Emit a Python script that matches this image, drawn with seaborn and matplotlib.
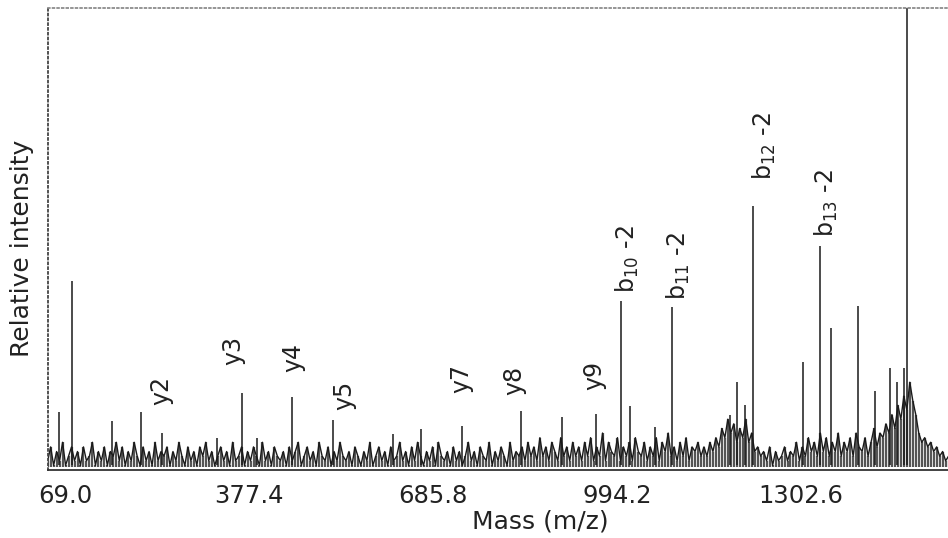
import numpy as np
import matplotlib
matplotlib.use("Agg")
import matplotlib.pyplot as plt
import seaborn as sns

# MS/MS spectrum, intensities in % of the base peak
tick_values = [69.0, 377.4, 685.8, 994.2, 1302.6]
tick_labels = ["69.0", "377.4", "685.8", "994.2", "1302.6"]

# baseline noise, read every 5 Da starting at m/z 40
noise_start = 40
noise_step = 5
noise_a = [2, 5, 1, 4, 2, 6, 1, 3, 5, 2, 4, 1, 5, 2, 3, 6, 1, 4, 2, 5,
           1, 4, 3, 6, 2, 5, 1, 4, 2, 6, 3, 1, 5, 2, 4, 1, 6, 2, 4, 3,
           5, 1, 4, 2, 6, 3, 1, 5, 2, 4, 1, 5, 3, 6, 2, 4, 1, 3, 5, 2,
           4, 1, 6, 2, 3, 5, 1, 4, 2, 5, 3, 1, 6, 2, 4, 1, 5, 3, 2, 4]
noise_b = [1, 5, 2, 4, 6, 1, 3, 5, 2, 4, 1, 6, 3, 2, 5, 1, 4, 2, 6, 3,
           2, 4, 1, 5, 3, 1, 4, 2, 6, 1, 3, 5, 2, 4, 1, 5, 2, 3, 6, 2,
           4, 1, 5, 2, 6, 3, 1, 4, 2, 5, 1, 6, 3, 2, 4, 1, 5, 2, 4, 1,
           3, 6, 2, 4, 1, 5, 3, 2, 6, 1, 4, 2, 5, 3, 1, 6, 2, 4, 3, 5]
noise_c = [2, 6, 3, 5, 2, 7, 3, 5, 2, 6, 4, 2, 7, 3, 5, 2, 6, 3, 5, 2,
           6, 3, 7, 2, 5, 3, 8, 2, 6, 4, 3, 7, 2, 5, 3, 6, 2, 7, 4, 3,
           6, 2, 5, 3, 7, 2, 6, 4, 8, 3, 5, 2, 6, 3, 7, 2, 5, 4, 6, 3,
           5, 3, 6, 4, 7, 5, 9, 7, 11, 8, 10, 6, 9, 7, 11, 6, 8, 4, 5, 3]
noise_d = [4, 2, 5, 1, 4, 2, 3, 5, 2, 4, 3, 6, 2, 5, 3, 7, 4, 6, 3, 8,
           4, 7, 3, 6, 4, 8, 3, 6, 4, 7, 3, 8, 5, 4, 7, 3, 6, 9, 5, 8,
           7, 10, 8, 12, 9, 14, 11, 16, 13, 19, 15, 12, 8, 6, 7, 5, 6, 4,
           5, 3, 4, 2, 3, 2, 3, 1.5]
noise = noise_a + noise_b + noise_c + noise_d

# distinct peaks (m/z, relative intensity)
peak_mz = [59, 80.7, 147.8, 196.4, 231.6, 323.8, 365.7, 390.8, 449.5, 518,
           618.8, 665.7, 734.4, 833, 902, 959, 1001, 1016, 1058, 1086,
           1183.6, 1195, 1208.8, 1222, 1306, 1334.5, 1353, 1398, 1426.7,
           1452, 1463, 1475, 1480]
peak_int = [12.5, 41, 10.6, 12.5, 8, 7, 16.6, 7, 15.8, 10.8,
            7.8, 8.9, 9.5, 12.7, 11.4, 12.1, 36.5, 13.8, 9.3, 35.2,
            12, 19, 14, 57.2, 23.3, 48.4, 30.7, 35.6, 17,
            22, 19, 22, 100]

# fragment ion annotations (text, m/z, intensity at the text foot)
ion_text = ["y2", "y3", "y4", "y5", "y7", "y8", "y9",
            r"b$_{10}$ -2", r"b$_{11}$ -2", r"b$_{12}$ -2", r"b$_{13}$ -2"]
ion_mz = [229.9, 350.6, 451, 536.6, 732.8, 821.6, 955.7,
          1011, 1096.5, 1242, 1346]
ion_int = [14.1, 22.7, 21.2, 13, 16.7, 16.2, 17.3,
           38.3, 36.8, 62.8, 50.4]

sns.set_theme(style="white")
plt.rcParams['font.family'] = ['DejaVu Sans']

fig = plt.figure(figsize=(9.48, 5.38), dpi=100)
ax = fig.add_axes([0.0506, 0.1264, 0.9494, 0.8587])

noise_mz = noise_start + noise_step * np.arange(len(noise))
# dense noise band: sticks under a zigzag trace
ax.vlines(noise_mz, 0.6, noise, color="#555555", linewidth=1.6)
sns.lineplot(x=noise_mz, y=noise, ax=ax, color="#1a1a1a", linewidth=1.0,
             estimator=None)
ax.vlines(peak_mz, 1, peak_int, color="#1a1a1a", linewidth=1.1)

for txt, mz, y in zip(ion_text, ion_mz, ion_int):
    ax.text(mz, y, txt, rotation=90, ha="center", va="bottom",
            fontsize=17, color="#222222")

ax.set_xlim(40.5, 1549)
ax.set_ylim(0, 100)
ax.set_xticks(tick_values)
ax.set_xticklabels(tick_labels)
ax.set_yticks([])
ax.tick_params(axis="x", length=0, pad=10, labelsize=17.5, colors="#222222")

ax.set_xlabel("Mass (m/z)", fontsize=18, color="#222222")
ax.xaxis.set_label_coords(0.547, -0.085)
ax.set_ylabel("Relative intensity", fontsize=18, color="#222222")
ax.yaxis.set_label_coords(-0.015, 0.48)

ax.spines["right"].set_visible(False)
ax.spines["top"].set_color("#888888")
ax.spines["top"].set_linestyle(":")
ax.spines["left"].set_color("#444444")
ax.spines["left"].set_linestyle(":")
ax.spines["left"].set_linewidth(1.3)
ax.spines["bottom"].set_color("#333333")
ax.spines["bottom"].set_linewidth(1.3)

fig.savefig("out.png", dpi=100)
